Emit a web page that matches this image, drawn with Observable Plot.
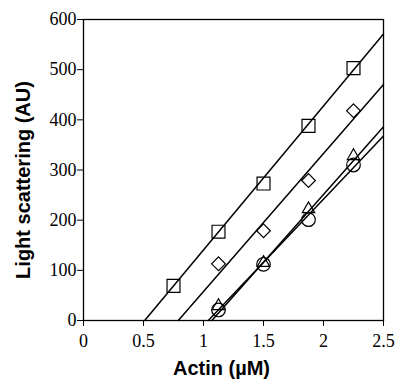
<!DOCTYPE html>
<html><head><meta charset="utf-8">
<script src="https://cdn.jsdelivr.net/npm/d3@7"></script>
<script src="https://cdn.jsdelivr.net/npm/@observablehq/plot@0.6"></script>
<style>
body{margin:0;background:#fff}
#chart g[aria-label$="tick label"], #chart g[aria-label$="tick label"] text {
  font-family: "Liberation Serif", "Times New Roman", serif !important;
  font-size: 18px !important;
}
</style>
</head><body><div id="chart"></div>
<script>
const xTicks = [0, 0.5, 1, 1.5, 2, 2.5];
const yTicks = [0, 100, 200, 300, 400, 500, 600];
const xLabel = "Actin (µM)";
const yLabel = "Light scattering (AU)";

const squareX = [0.75, 1.125, 1.5, 1.875, 2.25];
const squareY = [69, 177, 273, 388, 503];
const diamondX = [1.125, 1.5, 1.875, 2.25];
const diamondY = [113, 179, 279, 418];
const triangleX = [1.125, 1.5, 1.875, 2.25];
const triangleY = [29, 115, 222, 328];
const circleX = [1.125, 1.5, 1.875, 2.25];
const circleY = [21, 112, 201, 310];

// linear fits: x-intercept and slope for each series
const fitSeries = ["square", "diamond", "triangle", "circle"];
const fitIntercept = [0.51, 0.79, 1.07, 1.04];
const fitSlope = [287, 275, 270, 252];
const xMax = 2.5;

const pts = (X, Y) => X.map((x, i) => ({x, y: Y[i]}));
const fitRows = fitSeries.flatMap((s, i) => [
  {series: s, x: fitIntercept[i], y: 0},
  {series: s, x: xMax, y: fitSlope[i] * (xMax - fitIntercept[i])}
]);

const tickFont = {fontFamily: "Liberation Serif", fontSize: 18};
const titleFont = {fontFamily: "Liberation Sans", fontSize: 20, fontWeight: "bold", fill: "black", textAnchor: "middle", lineAnchor: "middle"};
const dotStyle = {x: "x", y: "y", fill: "none", stroke: "black", strokeWidth: 1.2};

const chart = Plot.plot({
  width: 396, height: 380,
  marginLeft: 83, marginRight: 13, marginTop: 19, marginBottom: 60,
  x: {domain: [0, 2.5]},
  y: {domain: [0, 600]},
  style: {background: "#fff", color: "black", fontFamily: "Liberation Serif", fontSize: "18px"},
  marks: [
    Plot.axisX(xTicks, {tickSize: 6, tickPadding: 8, tickFormat: d => String(d), label: null, ...tickFont}),
    Plot.axisY(yTicks, {tickSize: 6, tickPadding: 1, tickFormat: d => String(d), label: null, ...tickFont}),
    Plot.line(fitRows, {x: "x", y: "y", z: "series", stroke: "black", strokeWidth: 1.5}),
    Plot.dot(pts(squareX, squareY), {...dotStyle, symbol: "square", r: 7.3}),
    Plot.dot(pts(diamondX, diamondY), {...dotStyle, symbol: "diamond2", r: 6.2}),
    Plot.dot(pts(triangleX, triangleY), {...dotStyle, symbol: "triangle", r: 4.6}),
    Plot.dot(pts(circleX, circleY), {...dotStyle, symbol: "circle", r: 6.8}),
    Plot.frame({stroke: "black", strokeWidth: 1.3}),
    Plot.text([xLabel], {text: d => d, frameAnchor: "bottom", dy: 48, dx: -12, ...titleFont}),
    Plot.text([yLabel], {text: d => d, frameAnchor: "left", rotate: -90, dx: -60, dy: 10, ...titleFont})
  ]
});
document.getElementById("chart").appendChild(chart);
</script>
</body></html>
